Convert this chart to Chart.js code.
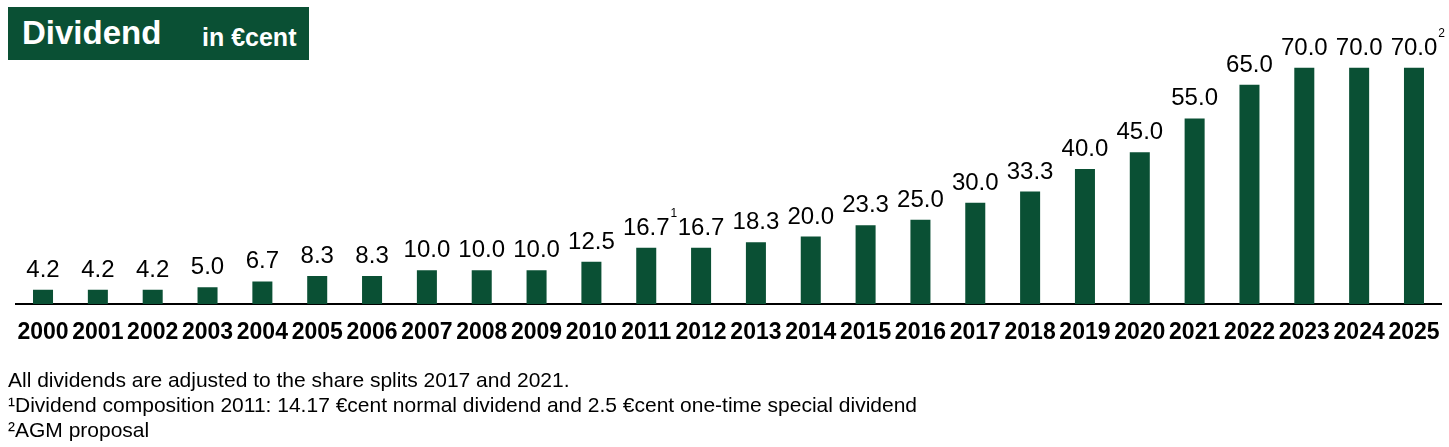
<!DOCTYPE html>
<html>
<head>
<meta charset="utf-8">
<script src="https://cdn.jsdelivr.net/npm/chart.js@4"></script>
<style>
  html, body { margin: 0; padding: 0; background: #fff; }
  #wrap { position: relative; width: 1449px; height: 447px; font-family: 'Liberation Sans', Arial, sans-serif; }
  #wrap canvas { position: absolute; left: 0; top: 0; }
  #titlebox { position: absolute; left: 8px; top: 7px; width: 301px; height: 53px; background: #0a5034; color: #fff; }
  #t1 { position: absolute; left: 14px; top: 7px; font-size: 33px; font-weight: bold; line-height: 38px; }
  #t2 { position: absolute; left: 194px; top: 16px; font-size: 25px; font-weight: bold; line-height: 28px; }
  #notes { position: absolute; left: 8px; top: 367px; font-size: 21px; line-height: 25px; color: #000; }
</style>
</head>
<body>
<div id="wrap">
  <canvas id="c"></canvas>
  <div id="titlebox"><span id="t1">Dividend</span><span id="t2">in €cent</span></div>
  <div id="notes">
    <div>All dividends are adjusted to the share splits 2017 and 2021.</div>
    <div>¹Dividend composition 2011: 14.17 €cent normal dividend and 2.5 €cent one-time special dividend</div>
    <div>²AGM proposal</div>
  </div>
</div>
<script>
const years = ['2000','2001','2002','2003','2004','2005','2006','2007','2008','2009','2010','2011','2012','2013','2014','2015','2016','2017','2018','2019','2020','2021','2022','2023','2024','2025'];
const dividends = [4.2,4.2,4.2,5.0,6.7,8.3,8.3,10.0,10.0,10.0,12.5,16.7,16.7,18.3,20.0,23.3,25.0,30.0,33.3,40.0,45.0,55.0,65.0,70.0,70.0,70.0];
const footnoteMarks = ['','','','','','','','','','','','1','','','','','','','','','','','','','','2'];

const GREEN = '#0a5034';
const FONT = "'Liberation Sans', Arial, sans-serif";

const labelPlugin = {
  id: 'valueLabels',
  afterDatasetsDraw(chart) {
    const ctx = chart.ctx;
    const meta = chart.getDatasetMeta(0);
    ctx.save();
    ctx.fillStyle = '#000';
    ctx.textBaseline = 'alphabetic';
    meta.data.forEach((bar, i) => {
      const txt = dividends[i].toFixed(1);
      ctx.font = '24px ' + FONT;
      ctx.textAlign = 'center';
      const y = bar.y - 13;
      ctx.fillText(txt, bar.x, y);
      if (footnoteMarks[i]) {
        const w = ctx.measureText(txt).width;
        ctx.font = '12px ' + FONT;
        ctx.textAlign = 'left';
        ctx.fillText(footnoteMarks[i], bar.x + w / 2 + 1, y - 18);
      }
    });
    ctx.restore();
  }
};

Chart.defaults.font.family = FONT;
Chart.defaults.color = '#000';

new Chart(document.getElementById('c'), {
  type: 'bar',
  data: {
    labels: years,
    datasets: [{
      data: dividends,
      backgroundColor: GREEN,
      borderWidth: 0,
      barPercentage: 0.73,
      categoryPercentage: 0.5
    }]
  },
  options: {
    responsive: true,
    maintainAspectRatio: false,
    animation: false,
    layout: { padding: { left: 15.6, right: 7.6, top: 34, bottom: 0 } },
    plugins: { legend: { display: false }, tooltip: { enabled: false }, title: { display: false } },
    scales: {
      x: {
        grid: { display: false, drawTicks: false },
        border: { display: true, color: '#000', width: 2 },
        ticks: { font: { size: 23, weight: 'bold' }, color: '#000', padding: 15, maxRotation: 0, autoSkip: false },
        afterFit: (scale) => {
          scale.height = 143;
          scale.paddingLeft = 0;
          scale.paddingRight = 0;
        }
      },
      y: {
        display: false,
        min: 0,
        max: 80
      }
    }
  },
  plugins: [labelPlugin]
});
</script>
</body>
</html>
